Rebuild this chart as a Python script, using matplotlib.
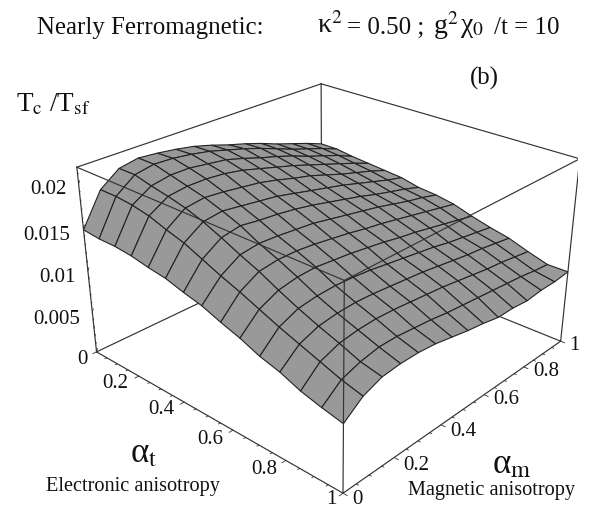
import numpy as np
import matplotlib
matplotlib.use("Agg")
import matplotlib.pyplot as plt

plt.rcParams['font.family'] = ['Liberation Serif', 'DejaVu Serif']
plt.rcParams['mathtext.fontset'] = 'stix'

# Tc/Tsf in units of 1e-3, rows = alpha_t, columns = alpha_m
alpha_t = np.arange(15) / 14
alpha_m = np.arange(15) / 14
tc_row00 = [14.8, 18.5, 20.1, 20.5, 20.3, 20.0, 19.6, 19.0, 18.3, 17.7, 17.0, 16.2, 15.5, 14.8, 14.0]
tc_row01 = [14.6, 18.5, 20.1, 20.5, 20.4, 20.1, 19.7, 19.1, 18.5, 17.8, 17.0, 16.2, 15.5, 14.8, 14.0]
tc_row02 = [14.6, 18.3, 19.6, 20.0, 20.0, 19.7, 19.4, 18.8, 18.1, 17.5, 16.8, 16.0, 15.3, 14.6, 13.7]
tc_row03 = [14.4, 17.9, 19.2, 19.5, 19.5, 19.3, 18.9, 18.3, 17.7, 17.1, 16.4, 15.7, 15.0, 14.3, 13.5]
tc_row04 = [14.0, 17.2, 18.7, 19.0, 18.8, 18.5, 18.2, 17.7, 17.1, 16.6, 15.9, 15.2, 14.6, 14.0, 13.3]
tc_row05 = [13.7, 16.6, 18.0, 18.3, 18.0, 17.7, 17.4, 16.9, 16.4, 15.9, 15.4, 14.8, 14.2, 13.6, 13.1]
tc_row06 = [13.1, 15.7, 17.1, 17.5, 17.2, 17.0, 16.7, 16.3, 15.8, 15.3, 14.8, 14.2, 13.7, 13.2, 12.6]
tc_row07 = [12.6, 14.8, 16.1, 16.4, 16.3, 16.1, 15.9, 15.5, 15.1, 14.7, 14.3, 13.8, 13.3, 12.9, 12.4]
tc_row08 = [11.8, 14.0, 15.2, 15.5, 15.5, 15.3, 15.0, 14.7, 14.3, 14.0, 13.6, 13.2, 12.8, 12.4, 12.0]
tc_row09 = [11.1, 13.1, 14.1, 14.5, 14.6, 14.4, 14.2, 13.9, 13.6, 13.2, 12.9, 12.5, 12.1, 11.7, 11.3]
tc_row10 = [10.2, 12.2, 13.1, 13.4, 13.5, 13.4, 13.2, 12.9, 12.6, 12.3, 12.0, 11.6, 11.3, 11.0, 10.7]
tc_row11 = [9.6, 11.4, 12.2, 12.5, 12.6, 12.5, 12.3, 12.1, 11.9, 11.6, 11.3, 11.0, 10.8, 10.5, 10.2]
tc_row12 = [8.7, 10.6, 11.4, 11.7, 11.8, 11.7, 11.5, 11.3, 11.1, 10.8, 10.5, 10.2, 10.0, 9.7, 9.4]
tc_row13 = [8.1, 9.8, 10.5, 10.9, 10.9, 10.7, 10.5, 10.2, 10.0, 9.8, 9.6, 9.4, 9.2, 8.9, 8.7]
tc_row14 = [7.6, 9.2, 10.0, 10.2, 10.2, 10.0, 9.6, 9.2, 8.9, 8.5, 8.5, 8.3, 8.5, 8.5, 8.7]
z_top = 0.0218

t_labels = ['0.2', '0.4', '0.6', '0.8', '1']
m_labels = ['0', '0.2', '0.4', '0.6', '0.8', '1']
z_labels = ['0', '0.005', '0.01', '0.015', '0.02']

Z = np.array([tc_row00, tc_row01, tc_row02, tc_row03, tc_row04, tc_row05, tc_row06, tc_row07,
              tc_row08, tc_row09, tc_row10, tc_row11, tc_row12, tc_row13, tc_row14]) / 1000
T, M = np.meshgrid(alpha_t, alpha_m, indexing='ij')

W, H = 592, 508
fig = plt.figure(figsize=(W / 100, H / 100), dpi=100)


# all plain text is placed in pixels of the picture
def label(x, y, s, size=15, ha='center'):
    fig.text(x / W, 1 - y / H, s, fontsize=size, ha=ha, va='center', color='#111111')


# camera fitted to the box corners of the reference
ax = fig.add_axes([68.77 / W, 1 - 520.1 / H, 509.6 / W, 509.6 / H], projection='3d')
ax.set_xlim(0, 1, view_margin=0)
ax.set_ylim(0, 1, view_margin=0)
ax.set_zlim(0, z_top, view_margin=0)
ax.view_init(elev=26.75, azim=-47.54)
ax.set_proj_type('persp', focal_length=0.418)
ax.set_box_aspect((1, 1, 0.6007))
ax.set_axis_off()
ax.computed_zorder = False

line = dict(color='#333333', lw=0.85)


def edge(p, q, z):
    ax.plot([p[0], q[0]], [p[1], q[1]], [p[2], q[2]], zorder=z, **line)


zt = z_top
# back of the box, behind the surface
edge((0, 0, 0), (0, 1, 0), 1)
edge((0, 1, 0), (1, 1, 0), 1)
edge((0, 1, 0), (0, 1, zt), 1)
edge((0, 0, zt), (0, 1, zt), 1)
edge((0, 1, zt), (1, 1, zt), 1)

ax.plot_surface(T, M, Z, rstride=1, cstride=1, color='#999999', edgecolor='#222222',
                linewidth=0.8, shade=False, antialiased=True, zorder=2)

# front of the box, over the surface
edge((0, 0, 0), (1, 0, 0), 3)
edge((1, 0, 0), (1, 1, 0), 3)
edge((0, 0, 0), (0, 0, zt), 3)
edge((1, 0, 0), (1, 0, zt), 3)
edge((1, 1, 0), (1, 1, zt), 3)
edge((0, 0, zt), (1, 0, zt), 3)
edge((1, 0, zt), (1, 1, zt), 3)

# ticks
tick = dict(color='#333333', lw=0.6, zorder=3)
for v in np.arange(0, 1.001, 0.05):
    n = 0.014 if abs(v * 5 - round(v * 5)) < 1e-6 else 0.007
    ax.plot([v, v], [0, -n], [0, 0], **tick)
    ax.plot([1, 1 + n], [v, v], [0, 0], **tick)
for v in np.arange(0, z_top, 0.001):
    n = 0.014 if abs(v / 0.005 - round(v / 0.005)) < 1e-6 else 0.007
    ax.plot([0, -n], [0, n], [v, v], **tick)

# tick labels
for (x, y), s in zip([(115, 384), (161, 410), (210, 440), (264, 470), (331, 499)], t_labels):
    label(x, y, s)
for (x, y), s in zip([(357, 499), (416, 465), (463, 432), (506, 400), (546, 372), (574, 346)], m_labels):
    label(x, y, s)
for (x, y), s in zip([(82, 360), (57, 320), (57, 278), (47, 235), (48, 190)], z_labels):
    label(x, y, s)

label(37, 28, 'Nearly Ferromagnetic:', 17.9, ha='left')
label(317, 26, r'κ$^{2}$', 20, ha='left')
label(347, 28, '= 0.50 ;', 18, ha='left')
label(433, 26, r'g$^{2}$', 20, ha='left')
label(460, 27, r'χ$_{0}$', 20, ha='left')
label(494, 28, '/t = 10', 18, ha='left')
label(484, 78, '(b)', 17.9)
label(16, 105, r'T$_{\mathrm{c}}$ /T$_{\mathrm{sf}}$', 19.5, ha='left')
label(144, 454, r'α$_{\mathrm{t}}$', 25)
label(512, 465, r'α$_{\mathrm{m}}$', 25)
label(133, 486, 'Electronic anisotropy', 14.6)
label(492, 491, 'Magnetic anisotropy', 14.6)

fig.savefig('out.png', dpi=100)
